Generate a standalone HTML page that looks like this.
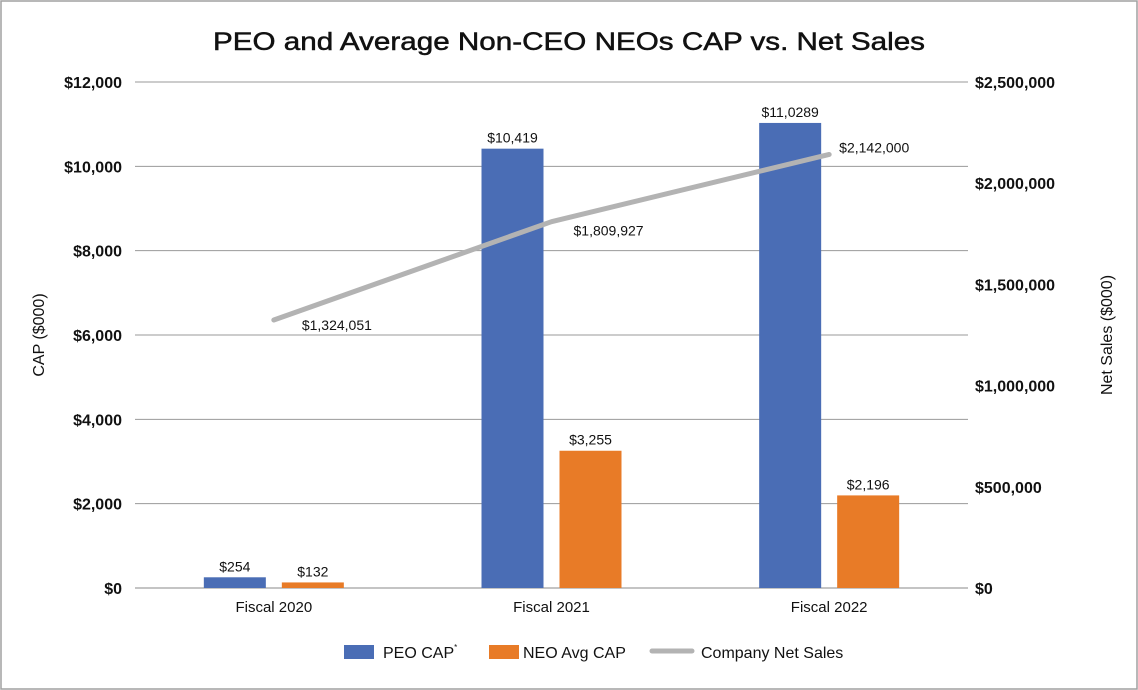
<!DOCTYPE html>
<html><head><meta charset="utf-8"><style>
html,body{margin:0;padding:0;background:#fff}
svg{display:block;font-family:"Liberation Sans",Arial,sans-serif}
</style></head><body>
<svg id="chart" width="1138" height="690">
<rect x="1" y="1" width="1136" height="688" fill="#fff" stroke="#a0a0a0" stroke-width="1.5"/>
<text x="213" y="50" textLength="712" lengthAdjust="spacingAndGlyphs" font-size="25" stroke="#111" stroke-width="0.5" fill="#111">PEO and Average Non-CEO NEOs CAP vs. Net Sales</text>
<text transform="translate(44,335) rotate(-90)" text-anchor="middle" font-size="16" fill="#111">CAP ($000)</text>
<text transform="translate(1112,335) rotate(-90)" text-anchor="middle" font-size="16" fill="#111">Net Sales ($000)</text>
<g id="grid"></g><g id="marks"></g>
<g>
<rect x="344" y="645" width="30" height="14" fill="#4a6db5"/>
<text x="383" y="658" font-size="16" fill="#111">PEO CAP<tspan font-size="8" dy="-8">*</tspan></text>
<rect x="489" y="645" width="30" height="14" fill="#e87b27"/>
<text x="523" y="658" font-size="16" fill="#111">NEO Avg CAP</text>
<line x1="652" y1="651" x2="692" y2="651" stroke="#b3b3b3" stroke-width="5" stroke-linecap="round"/>
<text x="701" y="658" font-size="16" fill="#111">Company Net Sales</text>
</g>
</svg>
<script>
const categories=["Fiscal 2020","Fiscal 2021","Fiscal 2022"];
const peoCap=[254,10419,11029];
const peoLabels=["$254","$10,419","$11,0289"];
const neoCap=[132,3255,2196];
const neoLabels=["$132","$3,255","$2,196"];
const netSales=[1324051,1809927,2142000];
const salesLabels=["$1,324,051","$1,809,927","$2,142,000"];
const leftTicks=[0,2000,4000,6000,8000,10000,12000];
const leftTickLabels=["$0","$2,000","$4,000","$6,000","$8,000","$10,000","$12,000"];
const rightTicks=[0,500000,1000000,1500000,2000000,2500000];
const rightTickLabels=["$0","$500,000","$1,000,000","$1,500,000","$2,000,000","$2,500,000"];

const NS="http://www.w3.org/2000/svg";
const X0=135,X1=968,Y0=588,Y1=82;
const band=(X1-X0)/categories.length;
const yL=v=>Y0-(v/12000)*(Y0-Y1);
const yR=v=>Y0-(v/2500000)*(Y0-Y1);
const xC=i=>X0+band*(i+0.5);
function mk(tag,attrs,parent,text){const e=document.createElementNS(NS,tag);for(const k in attrs)e.setAttribute(k,attrs[k]);if(text!==undefined)e.textContent=text;parent.appendChild(e);return e;}
const grid=document.getElementById('grid'),marks=document.getElementById('marks');
leftTicks.forEach((t,i)=>{
 const l=mk('line',{x1:X0,x2:X1,y1:yL(t),y2:yL(t),stroke:t===0?'#888':'#9a9a9a','stroke-width':1},grid);
 
 
 const tx=mk('text',{x:122,y:yL(t)+6,'text-anchor':'end','font-size':16,'font-weight':'bold',fill:'#111'},grid,leftTickLabels[i]);
 
 
});
rightTicks.forEach((t,i)=>{
 const tx=mk('text',{x:975,y:yR(t)+6,'font-size':16,'font-weight':'bold',fill:'#111'},grid,rightTickLabels[i]);
 
 
});
categories.forEach((c,i)=>{
 const tx=mk('text',{x:xC(i),y:612,'text-anchor':'middle','font-size':15,fill:'#111'},grid,c);
 
 
 const bw=62;
 const px=xC(i)-70,nx=xC(i)+8;
 const b1=mk('rect',{x:px,y:yL(peoCap[i]),width:bw,height:Y0-yL(peoCap[i]),fill:'#4a6db5'},marks);
 
 
 const b2=mk('rect',{x:nx,y:yL(neoCap[i]),width:bw,height:Y0-yL(neoCap[i]),fill:'#e87b27'},marks);
 
 
 const l1=mk('text',{x:px+bw/2,y:yL(peoCap[i])-6,'text-anchor':'middle','font-size':14,fill:'#111'},marks,peoLabels[i]);
 
 
 const l2=mk('text',{x:nx+bw/2,y:yL(neoCap[i])-6,'text-anchor':'middle','font-size':14,fill:'#111'},marks,neoLabels[i]);
 
 
});
const pts=netSales.map((v,i)=>xC(i)+','+yR(v)).join(' ');
const pl=mk('polyline',{points:pts,fill:'none',stroke:'#b3b3b3','stroke-width':5,'stroke-linecap':'round','stroke-linejoin':'round'},marks);


const offs=[[28,10],[22,14],[10,-2]];
netSales.forEach((v,i)=>{
 const tx=mk('text',{x:xC(i)+offs[i][0],y:yR(v)+offs[i][1],'font-size':14,fill:'#111'},marks,salesLabels[i]);
 
 
});
</script>
</body></html>
